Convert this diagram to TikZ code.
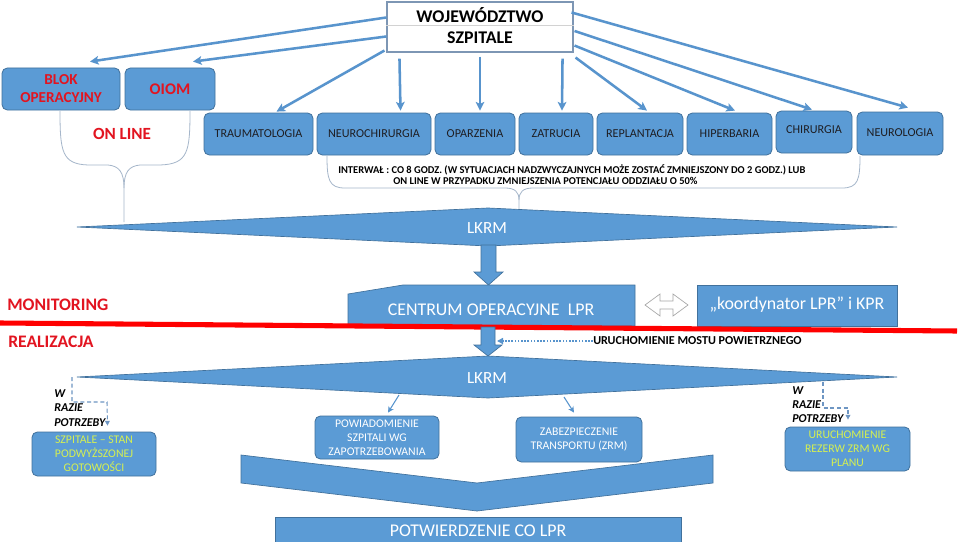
\documentclass[tikz,border=0pt]{standalone}
\usepackage{fontspec}
\setmainfont{Carlito}
\usetikzlibrary{arrows.meta,calc,fit}
\definecolor{bl}{RGB}{91,155,213}
\definecolor{bd}{RGB}{65,113,156}
\definecolor{ar}{RGB}{88,148,205}
\definecolor{rd}{RGB}{226,20,32}
\definecolor{yl}{RGB}{214,240,80}
\definecolor{tx}{RGB}{30,30,35}
\definecolor{br}{RGB}{165,182,202}
\definecolor{wb}{RGB}{125,150,180}
\definecolor{dsh}{RGB}{110,150,195}
\begin{document}
\begin{tikzpicture}[x=0.75pt,y=-0.75pt,
  rbox/.style={draw=bd, fill=bl, rounded corners=4pt, inner sep=0pt, line width=0.6pt},
  lbl/.style={inner sep=0pt, align=center},
  dept/.style={lbl, text=tx, font=\fontsize{9.1}{10}\selectfont},
  lowtxt/.style={lbl, text=white, font=\fontsize{8.8}{10.5}\selectfont},
  yeltxt/.style={lbl, text=yl, font=\fontsize{8.8}{10.5}\selectfont},
  arr/.style={draw=ar, line width=1.9pt, -{Stealth[length=6.5pt,width=6.5pt,inset=1.5pt]}},
  thinarr/.style={draw=ar, line width=0.8pt, -{Stealth[length=4.5pt,width=4.5pt]}},
  dasharr/.style={draw=dsh, line width=0.8pt, dash pattern=on 3pt off 2pt, -{Triangle[length=3.5pt,width=3.5pt]}},
  dotarr/.style={draw=ar, line width=1.4pt, dash pattern=on 1.2pt off 1.2pt, -{Triangle[length=4.5pt,width=4.5pt]}},
  brace/.style={draw=br, line width=0.6pt},
  shapefill/.style={fill=bl, draw=bd, line width=0.5pt},
  bigtxt/.style={lbl, text=white, font=\fontsize{13.4}{15}\selectfont},
  redtxt/.style={text=rd, font=\bfseries\fontsize{13.2}{15}\selectfont, anchor=west, inner sep=0pt},
  wrazie/.style={text=black, font=\bfseries\itshape\fontsize{9}{10.9}\selectfont, align=left, inner sep=0pt},
  smalltxt/.style={text=black, font=\bfseries\fontsize{7.85}{9}\selectfont, anchor=west, inner sep=0pt}
]
\fill[white] (0,0) rectangle (960,542);
\useasboundingbox (0,0) rectangle (960,542);

% top box
\node[draw=wb, fill=white, line width=0.8pt, inner sep=0pt, fit={(387,2) (573,52)}] (woj) {};
\draw[gray!35, line width=0.6pt] ($(woj.west)+(0,-2)$) -- ($(woj.east)+(0,-2)$);
\node[lbl, font=\bfseries\fontsize{13.4}{15}\selectfont] (wojA) at (480,15) {WOJEWÓDZTWO};
\node[lbl, font=\bfseries\fontsize{13.4}{15}\selectfont] (wojB) at (480,38) {SZPITALE};

% red boxes
\node[rbox, fit={(2,68) (120,110)}] (blok) {};
\node[lbl, text=rd, font=\bfseries\fontsize{11.4}{13.5}\selectfont] (blokt) at (blok.center) {BLOK\\OPERACYJNY};
\node[rbox, fit={(125,68) (215,110)}] (oiom) {};
\node[lbl, text=rd, font=\bfseries\fontsize{12.2}{14}\selectfont] (oiomt) at (oiom.center) {OIOM};
\node[lbl, text=rd, font=\bfseries\fontsize{12.8}{15}\selectfont] (online) at (122,134) {ON LINE};

% departments
\node[rbox, fit={(204,113) (313,155)}] (trauma) {};
\node[rbox, fit={(317,113) (431,155)}] (neuro) {};
\node[rbox, fit={(435,113) (515,155)}] (opar) {};
\node[rbox, fit={(519,113) (593,155)}] (zatr) {};
\node[rbox, fit={(597,113) (683,155)}] (repl) {};
\node[rbox, fit={(687,113) (772,155)}] (hiper) {};
\node[rbox, fit={(776,111) (852,153)}] (chir) {};
\node[rbox, fit={(857,112) (943,155)}] (neurol) {};
\node[dept] (traumat) at (trauma.center) {TRAUMATOLOGIA};
\node[dept] (neurot) at (neuro.center) {NEUROCHIRURGIA};
\node[dept] (opart) at (opar.center) {OPARZENIA};
\node[dept] (zatrt) at (zatr.center) {ZATRUCIA};
\node[dept] (replt) at (repl.center) {REPLANTACJA};
\node[dept] (hipert) at (hiper.center) {HIPERBARIA};
\node[dept] (chirt) at ($(chir.center)+(0,-2)$) {CHIRURGIA};
\node[dept] (neurolt) at ($(neurol.center)+(0,-1)$) {NEUROLOGIA};

% arrows from top box
\draw[arr] ($(woj.north west)+(0,16)$) -- ($(blok.north)+(29,-6)$);
\draw[arr] ($(woj.north west)+(0,35)$) -- ($(oiom.north)+(23,-6)$);
\draw[arr] ($(woj.south west)+(-2,-2)$) -- ($(trauma.north)+(18,-1)$);
\draw[arr] ($(woj.south west)+(13,6)$) -- ($(neuro.north)+(26.5,-2)$);
\draw[arr] ($(woj.south)+(0,4)$) -- ($(opar.north)+(5,-2)$);
\draw[arr] ($(woj.south east)+(-11,6)$) -- ($(zatr.north)+(6,-2)$);
\draw[arr] ($(woj.south east)+(2,5)$) -- ($(repl.north)+(7,-2)$);
\draw[arr] ($(woj.south east)+(1,-7)$) -- ($(hiper.north)+(5.5,-2)$);
\draw[arr] ($(woj.east)+(1,4)$) -- ($(chir.north)+(-2,-1)$);
\draw[arr] ($(woj.north east)+(-2,11)$) -- ($(neurol.north)+(8,-4)$);

% braces
\draw[brace] (60,111) .. controls (60,152) and (62,164) .. (88,165) -- (108,165) .. controls (119,166) and (124,172) .. (124,188) -- (124,222);
\draw[brace] (190,111) .. controls (190,152) and (188,164) .. (160,165) -- (140,165) .. controls (129,166) and (124,172) .. (124,188);
\draw[brace] (327,156) .. controls (327,180) and (329,188) .. (345,188) -- (505,188) .. controls (515,188) and (519,192) .. (519,200) -- (519,210);
\draw[brace] (860,156) .. controls (860,180) and (858,188) .. (842,188) -- (533,188) .. controls (523,188) and (519,192) .. (519,200);

\node[smalltxt] (int1) at (338,170) {INTERWAŁ : CO 8 GODZ. (W SYTUACJACH NADZWYCZAJNYCH MOŻE ZOSTAĆ ZMNIEJSZONY DO 2 GODZ.) LUB};
\node[smalltxt] (int2) at (393,181) {ON LINE W PRZYPADKU ZMNIEJSZENIA POTENCJAŁU ODDZIAŁU O 50\%};

% top LKRM
\path[shapefill] (77,227) -- (488,208) -- (897,227) -- (488,246) -- cycle;
\node[bigtxt, font=\fontsize{12.8}{15}\selectfont] (lkrmA) at (487,228) {LKRM};

% block arrow 1
\path[shapefill] (481,245) -- (496,245) -- (496,272) -- (503,272) -- (488.5,285) -- (474,272) -- (481,272) -- cycle;

% centrum
\path[shapefill] (348,294) -- (403,285) -- (635,285) -- (635,326) -- (348,326) -- cycle;
\node[bigtxt] (centrum) at (491,310) {CENTRUM OPERACYJNE\ \ LPR};

% double arrow
\draw[draw=gray!70, fill=white, line width=0.5pt] (645,305) -- (660,294) -- (660,301) -- (673,301) -- (673,294) -- (688,305) -- (673,316) -- (673,309) -- (660,309) -- (660,316) -- cycle;

% koordynator
\node[fill=bl, draw=bd, line width=0.5pt, inner sep=0pt, fit={(697,285) (897,326)}] (koord) {};
\node[bigtxt] (koordt) at (797,305) {„koordynator LPR” i KPR};

% red line
\draw[red, line width=3.8pt] (0,323) -- (957,331);
\node[redtxt] (moni) at (7,305) {MONITORING};
\node[redtxt] (real) at (8,342) {REALIZACJA};

% block arrow 2
\path[shapefill] (481,327) -- (495,327) -- (495,345) -- (502,345) -- (488,356) -- (474,345) -- (481,345) -- cycle;
\coordinate (shaft2) at (497,341);
\node[smalltxt, font=\bfseries\fontsize{9.1}{10}\selectfont] (most) at (593,341) {URUCHOMIENIE MOSTU POWIETRZNEGO};
\draw[dotarr] (most.west) -- (shaft2);

% bottom LKRM
\path[shapefill] (77,377) -- (488,356) -- (897,377) -- (488,398) -- cycle;
\node[bigtxt, font=\fontsize{12.8}{15}\selectfont] (lkrmB) at (487,378) {LKRM};

% chevron
\path[shapefill] (241,455) -- (477,483) -- (713,455) -- (713,483) -- (477,511) -- (241,483) -- cycle;

% confirm
\node[fill=bl, draw=bd, line width=0.5pt, inner sep=0pt, fit={(275,517) (681,546)}] (potw) {};
\node[bigtxt] (potwt) at (478,531) {POTWIERDZENIE CO LPR};

% lower boxes
\node[rbox, fit={(32,432) (156,476)}] (szp) {};
\node[rbox, fit={(315,416) (439,459)}] (powi) {};
\node[rbox, fit={(516,417) (642,462)}] (zabez) {};
\node[rbox, fit={(785,427) (910,471)}] (rez) {};
\node[yeltxt] (szpt) at (szp.center) {SZPITALE – STAN\\PODWYŻSZONEJ\\GOTOWOŚCI};
\node[lowtxt] (powit) at (powi.center) {POWIADOMIENIE\\SZPITALI WG\\ZAPOTRZEBOWANIA};
\node[lowtxt] (zabezt) at (zabez.center) {ZABEZPIECZENIE\\TRANSPORTU (ZRM)};
\node[yeltxt] (rezt) at (rez.center) {URUCHOMIENIE\\REZERW ZRM WG\\PLANU};

% W RAZIE POTRZEBY
\node[wrazie, anchor=north west] (wl) at (54,389) {W\\RAZIE\\POTRZEBY};
\node[wrazie, anchor=north west, font=\bfseries\itshape\fontsize{9}{10.5}\selectfont] (wr) at (792,386) {W\\RAZIE\\POTRZEBY};

% dashed connectors
\coordinate (dl) at (72,377);
\coordinate (dr) at (823,382);
\draw[dasharr] (dl) -- (72,402) -- (107,402) -- ($(szp.north)+(13.5,-6)$);
\draw[dasharr] (dr) -- (823,408) -- (848,408) -- ($(rez.north)+(0.5,-7)$);

% small arrows
\coordinate (s1) at (399,395);
\coordinate (s2) at (564,397);
\draw[thinarr] (s1) -- ($(powi.north)+(11,-3)$);
\draw[thinarr] (s2) -- ($(zabez.north)+(-5,-4)$);
\end{tikzpicture}
\end{document}
